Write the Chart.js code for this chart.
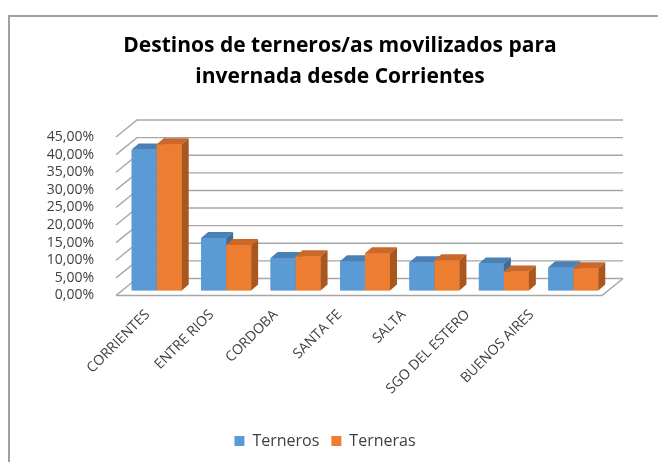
<!DOCTYPE html>
<html>
<head>
<meta charset="utf-8">
<script src="https://cdn.jsdelivr.net/npm/chart.js@4"></script>
<style>
  html, body { margin: 0; padding: 0; background: #fff; }
  #wrap { width: 658px; height: 462px; position: relative; }
</style>
</head>
<body>
<div id="wrap"><canvas id="chart"></canvas></div>
<script>
// data
const categories = ['CORRIENTES', 'ENTRE RIOS', 'CORDOBA', 'SANTA FE', 'SALTA', 'SGO DEL ESTERO', 'BUENOS AIRES'];
const terneros = [40.0, 14.9, 9.2, 8.3, 8.0, 7.7, 6.6];
const terneras = [41.5, 12.9, 9.7, 10.6, 8.6, 5.4, 6.3];
const seriesNames = ['Terneros', 'Terneras'];
const titleLines = ['Destinos de terneros/as movilizados para', 'invernada desde Corrientes'];

const colors = {
    blue: '#5b9bd5', blueTop: '#4a80b4', blueSide: '#3e6d99',
    orange: '#ed7d31', orangeTop: '#c9682a', orangeSide: '#a9561f',
    grid: '#a6a6a6', text: '#404040'
};

// 3d look: wall depth, bar offset and bar depth
const DX = 21, DY = -17;
const BX = 6, BY = -5;
const dx = 7, dy = -6;

function poly(ctx, pts, fill) {
    ctx.beginPath();
    ctx.moveTo(pts[0][0], pts[0][1]);
    for (let i = 1; i < pts.length; i++) ctx.lineTo(pts[i][0], pts[i][1]);
    ctx.closePath();
    ctx.fillStyle = fill;
    ctx.fill();
}

const fake3d = {
    id: 'fake3d',
    beforeDraw(chart) {
        const ctx = chart.ctx;
        ctx.save();
        // frame
        ctx.fillStyle = '#a0a0a0';
        ctx.fillRect(8, 15, 2, chart.height - 15);
        ctx.fillRect(8, 15, chart.width - 8, 2);
        // title
        ctx.fillStyle = '#000';
        ctx.font = 'bold 21px "Open Sans"';
        ctx.textAlign = 'center';
        ctx.textBaseline = 'alphabetic';
        ctx.fillText(titleLines[0], 340, 52);
        ctx.fillText(titleLines[1], 340, 83);
        ctx.restore();
    },
    beforeDatasetsDraw(chart) {
        const { ctx, chartArea: a, scales: { y } } = chart;
        ctx.save();
        ctx.strokeStyle = colors.grid;
        ctx.lineWidth = 1.4;
        const y0 = y.getPixelForValue(0);
        ctx.beginPath();
        ctx.moveTo(a.left, y0);
        ctx.lineTo(a.right, y0);
        ctx.lineTo(a.right + DX, y0 + DY);
        ctx.stroke();
        y.ticks.forEach(t => {
            const py = y.getPixelForValue(t.value);
            ctx.beginPath();
            ctx.moveTo(a.left, py);
            ctx.lineTo(a.left + DX, py + DY);
            ctx.lineTo(a.right + DX, py + DY);
            ctx.stroke();
        });
        ctx.restore();
        ctx.save();
        ctx.translate(BX, BY);
    },
    afterDatasetsDraw(chart) {
        const ctx = chart.ctx;
        const metas = [chart.getDatasetMeta(0), chart.getDatasetMeta(1)];
        const faces = [[colors.blue, colors.blueTop, colors.blueSide], [colors.orange, colors.orangeTop, colors.orangeSide]];
        for (let i = 0; i < categories.length; i++) {
            metas.forEach((m, k) => {
                const p = m.data[i].getProps(['x', 'y', 'base', 'width'], true);
                const l = p.x - p.width / 2, r = p.x + p.width / 2;
                poly(ctx, [[l, p.y], [r, p.y], [r, p.base], [l, p.base]], faces[k][0]);
                poly(ctx, [[l, p.y], [r, p.y], [r + dx, p.y + dy], [l + dx, p.y + dy]], faces[k][1]);
                poly(ctx, [[r, p.y], [r + dx, p.y + dy], [r + dx, p.base + dy], [r, p.base]], faces[k][2]);
            });
        }
        ctx.restore();
    }
};

new Chart(document.getElementById('chart'), {
    type: 'bar',
    data: {
        labels: categories,
        datasets: [
            { label: seriesNames[0], data: terneros, backgroundColor: colors.blue, xAxisID: 'x', yAxisID: 'y' },
            { label: seriesNames[1], data: terneras, backgroundColor: colors.orange, xAxisID: 'x', yAxisID: 'y' }
        ]
    },
    options: {
        responsive: true,
        maintainAspectRatio: false,
        animation: false,
        events: [],
        layout: { padding: { left: 0, right: 8, top: 137, bottom: 3 } },
        datasets: { bar: { categoryPercentage: 0.72, barPercentage: 1.0 } },
        plugins: {
            title: { display: false },
            legend: {
                position: 'bottom',
                labels: {
                    color: '#404040',
                    font: { family: 'Open Sans', size: 16 },
                    boxWidth: 10, boxHeight: 10,
                    padding: 12
                }
            },
            tooltip: { enabled: false }
        },
        scales: {
            x: {
                display: false
            },
            // label axis: the category names sit a bit closer together than the bars (3d perspective)
            xl: {
                type: 'linear',
                position: 'bottom',
                bounds: 'data',
                offset: false,
                min: -0.495, max: 7.099,
                grid: { display: false, offset: false },
                border: { display: false },
                afterBuildTicks(scale) { scale.ticks = categories.map((c, i) => ({ value: i })); },
                afterFit(scale) { scale.height = 125.5; },
                ticks: {
                    autoSkip: false,
                    color: '#404040',
                    font: { family: 'Open Sans', size: 14 },
                    maxRotation: 45, minRotation: 45,
                    padding: 3,
                    callback: v => categories[Math.round(v)] || ''
                }
            },
            y: {
                min: 0, max: 45,
                grid: { display: false },
                border: { display: false },
                afterFit(scale) { scale.width = 116; },
                ticks: {
                    stepSize: 5,
                    autoSkip: false,
                    color: colors.text,
                    padding: 14,
                    font: { family: 'Open Sans', size: 14 },
                    callback: v => v.toFixed(2).replace('.', ',') + '%'
                }
            },
            yr: {
                position: 'right',
                grid: { display: false },
                border: { display: false },
                ticks: { display: false },
                afterFit(scale) { scale.width = 48; }
            }
        }
    },
    plugins: [fake3d]
});
</script>
</body>
</html>
